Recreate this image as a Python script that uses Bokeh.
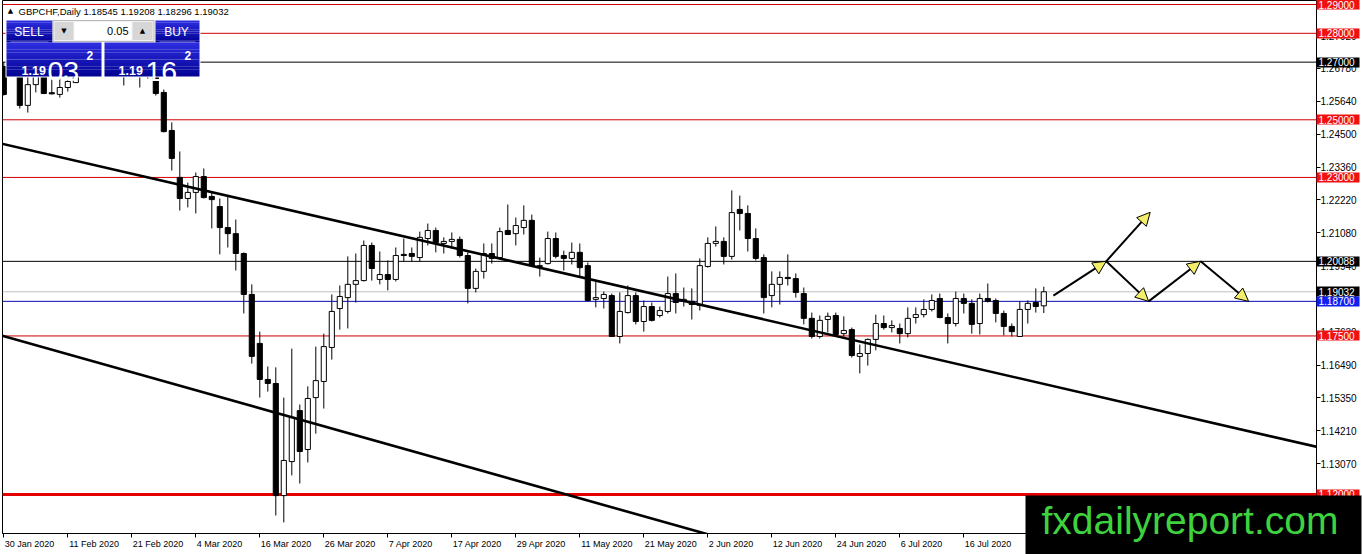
import numpy as np
from bokeh.plotting import figure
from bokeh.models import (Range1d, FixedTicker, PrintfTickFormatter, CustomJSTickFormatter,
                          LinearAxis, Arrow, NormalHead, ColumnDataSource)
from bokeh.core.properties import value
from bokeh.embed import file_html
from bokeh.resources import INLINE

# ---------------- data (GBPCHF daily candles) ----------------
opens = [1.2685, 1.2660, 1.2671, 1.2550, 1.2622, 1.2664, 1.2594, 1.2588, 1.2612, 1.2629,
         1.2655, 1.2690, 1.2730, 1.2770, 1.2715, 1.2740, 1.2660, 1.2700, 1.2665, 1.2680,
         1.2595, 1.2463, 1.2300, 1.2227, 1.2248, 1.2303, 1.2234, 1.2199, 1.2126, 1.2105,
         1.2036, 1.1894, 1.1724, 1.1599, 1.1585, 1.1196, 1.1314, 1.1491, 1.1356, 1.1536,
         1.1592, 1.1710, 1.1845, 1.1883, 1.1929, 1.1942, 1.2064, 1.1946, 1.1963, 1.1946,
         1.2033, 1.2036, 1.2022, 1.2088, 1.2116, 1.2071, 1.2078, 1.2085, 1.2029, 1.1915,
         1.1974, 1.2036, 1.2022, 1.2116, 1.2105, 1.2126, 1.2151, 1.1991, 1.2001, 1.2088,
         1.2029, 1.2019, 1.2040, 1.1994, 1.1877, 1.1880, 1.1890, 1.1748, 1.1831, 1.1890,
         1.1800, 1.1852, 1.1821, 1.1835, 1.1897, 1.1870, 1.1870, 1.1856, 1.1991, 1.2071,
         1.2078, 1.2026, 1.2189, 1.2175, 1.2088, 1.2022, 1.1890, 1.1929, 1.1953, 1.1949,
         1.1897, 1.1811, 1.1748, 1.1807, 1.1821, 1.1758, 1.1772, 1.1679, 1.1689, 1.1738,
         1.1793, 1.1779, 1.1776, 1.1758, 1.1814, 1.1824, 1.1842, 1.1880, 1.1814, 1.1793,
         1.1880, 1.1863, 1.1793, 1.1880, 1.1873, 1.1828, 1.1783, 1.1748, 1.1842, 1.1866,
         1.18545]
highs = [1.2700, 1.2705, 1.2688, 1.2654, 1.2671, 1.2678, 1.2657, 1.2654, 1.2657, 1.2680,
         1.2700, 1.2745, 1.2790, 1.2800, 1.2760, 1.2770, 1.2720, 1.2735, 1.2710, 1.2700,
         1.2605, 1.2491, 1.2390, 1.2282, 1.2317, 1.2331, 1.2248, 1.2227, 1.2234, 1.2154,
         1.2040, 1.1929, 1.1765, 1.1644, 1.1641, 1.1536, 1.1706, 1.1512, 1.1575, 1.1713,
         1.1758, 1.1894, 1.1925, 1.2026, 1.2036, 1.2081, 1.2074, 1.2043, 1.2012, 1.2057,
         1.2088, 1.2057, 1.2112, 1.2140, 1.2126, 1.2092, 1.2109, 1.2095, 1.2040, 1.1984,
         1.2071, 1.2071, 1.2126, 1.2206, 1.2161, 1.2203, 1.2171, 1.2022, 1.2112, 1.2109,
         1.2046, 1.2074, 1.2071, 1.2005, 1.1942, 1.1904, 1.1897, 1.1901, 1.1925, 1.1901,
         1.1873, 1.1866, 1.1852, 1.1956, 1.1967, 1.1918, 1.1915, 1.2019, 1.2092, 1.2130,
         1.2092, 1.2255, 1.2237, 1.2203, 1.2123, 1.2033, 1.1974, 1.1974, 1.2033, 1.1967,
         1.1918, 1.1831, 1.1821, 1.1831, 1.1831, 1.1818, 1.1779, 1.1720, 1.1741, 1.1824,
         1.1821, 1.1804, 1.1793, 1.1849, 1.1849, 1.1877, 1.1894, 1.1897, 1.1828, 1.1904,
         1.1897, 1.1877, 1.1897, 1.1932, 1.1880, 1.1838, 1.1793, 1.1870, 1.1873, 1.1915,
         1.19208]
lows = [1.2584, 1.2655, 1.2539, 1.2525, 1.2595, 1.2591, 1.2588, 1.2577, 1.2598, 1.2629,
        1.2652, 1.2680, 1.2715, 1.2700, 1.2680, 1.2619, 1.2655, 1.2612, 1.2643, 1.2584,
        1.2456, 1.2324, 1.2185, 1.2196, 1.2175, 1.2227, 1.2123, 1.2033, 1.2057, 1.1977,
        1.1828, 1.1654, 1.1536, 1.1557, 1.1127, 1.1103, 1.1266, 1.1238, 1.1311, 1.1411,
        1.1498, 1.1668, 1.1772, 1.1776, 1.1866, 1.1939, 1.1942, 1.1929, 1.1908, 1.1939,
        1.2008, 1.2008, 1.2008, 1.2064, 1.2040, 1.2036, 1.2053, 1.2022, 1.1863, 1.1901,
        1.1949, 1.2001, 1.2022, 1.2102, 1.2064, 1.2102, 1.1991, 1.1956, 1.1998, 1.2019,
        1.1977, 1.1998, 1.1956, 1.1870, 1.1849, 1.1845, 1.1748, 1.1724, 1.1828, 1.1790,
        1.1765, 1.1800, 1.1814, 1.1828, 1.1828, 1.1852, 1.1807, 1.1838, 1.1987, 1.2060,
        1.1998, 1.2015, 1.2116, 1.2043, 1.2012, 1.1828, 1.1849, 1.1859, 1.1925, 1.1883,
        1.1790, 1.1741, 1.1741, 1.1762, 1.1748, 1.1748, 1.1675, 1.1620, 1.1647, 1.1700,
        1.1772, 1.1762, 1.1724, 1.1745, 1.1793, 1.1814, 1.1835, 1.1811, 1.1724, 1.1783,
        1.1828, 1.1758, 1.1755, 1.1866, 1.1797, 1.1752, 1.1748, 1.1748, 1.1793, 1.1831,
        1.18296]
closes = [1.2588, 1.2690, 1.2550, 1.2622, 1.2650, 1.2591, 1.2590, 1.2612, 1.2633, 1.2650,
          1.2690, 1.2730, 1.2770, 1.2715, 1.2740, 1.2660, 1.2700, 1.2665, 1.2690, 1.2591,
          1.2459, 1.2366, 1.2227, 1.2248, 1.2303, 1.2230, 1.2223, 1.2126, 1.2105, 1.2036,
          1.1894, 1.1679, 1.1599, 1.1585, 1.1196, 1.1318, 1.1467, 1.1349, 1.1533, 1.1595,
          1.1713, 1.1835, 1.1887, 1.1929, 1.1942, 1.2064, 1.1984, 1.1963, 1.1946, 1.2029,
          1.2029, 1.2026, 1.2092, 1.2116, 1.2074, 1.2078, 1.2085, 1.2029, 1.1915, 1.1974,
          1.2036, 1.2019, 1.2112, 1.2102, 1.2133, 1.2151, 1.1994, 1.1994, 1.2088, 1.2026,
          1.2019, 1.2040, 1.1987, 1.1873, 1.1883, 1.1894, 1.1748, 1.1835, 1.1890, 1.1800,
          1.1852, 1.1804, 1.1838, 1.1897, 1.1866, 1.1877, 1.1859, 1.1994, 1.2071, 1.2078,
          1.2026, 1.2178, 1.2175, 1.2088, 1.2019, 1.1883, 1.1929, 1.1953, 1.1949, 1.1901,
          1.1811, 1.1748, 1.1804, 1.1818, 1.1755, 1.1769, 1.1682, 1.1689, 1.1738, 1.1793,
          1.1779, 1.1786, 1.1758, 1.1811, 1.1824, 1.1842, 1.1873, 1.1814, 1.1793, 1.1880,
          1.1863, 1.1790, 1.1880, 1.1870, 1.1828, 1.1783, 1.1765, 1.1842, 1.1863, 1.1852,
          1.19032]

tick_labels = ["30 Jan 2020", "11 Feb 2020", "21 Feb 2020", "4 Mar 2020", "16 Mar 2020",
               "26 Mar 2020", "7 Apr 2020", "17 Apr 2020", "29 Apr 2020", "11 May 2020",
               "21 May 2020", "2 Jun 2020", "12 Jun 2020", "24 Jun 2020", "6 Jul 2020",
               "16 Jul 2020"]
tick_step = 8  # bars between date labels

price_ticks = [1.2792, 1.2678, 1.2564, 1.2450, 1.2336, 1.2222, 1.2108, 1.1994,
               1.1880, 1.1763, 1.1649, 1.1535, 1.1421, 1.1307]

levels = [1.29000, 1.28000, 1.27000, 1.25000, 1.23000, 1.20088, 1.19032, 1.18700, 1.17500, 1.12000]
level_line_colors = ["#D00000", "#D00000", "#000000", "#D00000", "#D00000", "#000000",
                     "#C0C0C0", "#0A0AB4", "#D00000", "#E40000"]
level_line_widths = [1, 1, 1, 1, 1, 1, 1, 1, 1, 3]
level_label_colors = ["#F01010", "#F01010", "#000000", "#F01010", "#F01010", "#000000",
                      "#000000", "#1020F0", "#F01010", "#F01010"]

upper_trend_x = [-0.4, 164.6]
upper_trend_y = [1.2418, 1.1362]
lower_trend_x = [-0.2, 100.0]
lower_trend_y = [1.1751, 1.0968]

arrow_x0 = [131.2, 137.8, 137.8, 143.1, 149.6]
arrow_y0 = [1.1890, 1.2009, 1.2009, 1.1870, 1.2009]
arrow_x1 = [137.8, 143.3, 143.1, 149.6, 155.6]
arrow_y1 = [1.2009, 1.2179, 1.1870, 1.2009, 1.1870]

symbol = "GBPCHF,Daily"
bid = 1.19032
ask = 1.19162
lot = "0.05"
watermark = "fxdailyreport.com"

# ---------------- geometry ----------------
W, H = 1362, 554
B_LEFT, B_RIGHT, B_TOP, B_BOTTOM = 2, 46, 0, 21
x_start, x_end = -0.1625, 164.0875
y_bottom, y_top = 1.10645, 1.29139
frame_w = W - B_LEFT - B_RIGHT


def rx(px):  # reference-pixel -> bar index (decorations only)
    return (px - 3.3) / 8.0


def ry(py):  # reference-pixel -> price (decorations only)
    return 1.29 - (py - 4.0) / 2882.0


FONT = "Liberation Sans"

p = figure(width=W, height=H, x_range=Range1d(x_start, x_end), y_range=Range1d(y_bottom, y_top),
           output_backend="svg", toolbar_location=None, y_axis_location="right", title=None,
           min_border_left=B_LEFT, min_border_right=B_RIGHT, min_border_top=B_TOP,
           min_border_bottom=B_BOTTOM)
p.background_fill_color = "white"
p.border_fill_color = "white"
p.outline_line_color = "black"
p.grid.visible = False

# ---------------- axes ----------------
CHAR_EM = {' ': 0.278, 'J': 0.5, 'a': 0.556, 'n': 0.556, 'F': 0.611, 'e': 0.556, 'b': 0.556,
           'M': 0.833, 'r': 0.333, 'A': 0.667, 'p': 0.556, 'y': 0.5, 'u': 0.556, 'l': 0.222}
X_FONT_PX = 9.0


def text_w(s, size):
    return sum(CHAR_EM.get(ch, 0.556) for ch in s) * size


px_per_bar = frame_w / (x_end - x_start)
tick_starts = [i * tick_step for i in range(len(tick_labels))]
tick_centers = [t + (text_w(lab, X_FONT_PX) / 2 + 1.0) / px_per_bar
                for t, lab in zip(tick_starts, tick_labels)]

xa = p.xaxis[0]
xa.ticker = FixedTicker(ticks=tick_centers, minor_ticks=tick_starts)
xa.formatter = CustomJSTickFormatter(args=dict(centers=tick_centers, labels=tick_labels), code="""
let best = 0;
for (let i = 0; i < centers.length; i++) {
  if (Math.abs(centers[i] - tick) < Math.abs(centers[best] - tick)) best = i;
}
return labels[best];
""")
xa.major_tick_out = 0
xa.major_tick_in = 0
xa.major_tick_line_color = None
xa.minor_tick_out = 4
xa.minor_tick_in = 0
xa.minor_tick_line_color = "black"
xa.axis_line_color = "black"
xa.major_label_standoff = 1
xa.major_label_text_font = FONT
xa.major_label_text_font_size = "9px"
xa.major_label_text_color = "black"

ya = p.yaxis[0]
ya.ticker = FixedTicker(ticks=price_ticks)
ya.formatter = PrintfTickFormatter(format="%.5f")
ya.major_tick_out = 4
ya.major_tick_in = 0
ya.minor_tick_out = 0
ya.minor_tick_in = 0
ya.major_tick_line_color = "black"
ya.axis_line_color = "black"
ya.major_label_standoff = 0
ya.major_label_text_font = FONT
ya.major_label_text_font_size = "10px"
ya.major_label_text_color = "black"

# coloured price tags: extra right axes (zero width) whose thick ticks form the label boxes
for col in ["#000000", "#F01010", "#1020F0"]:
    lv = [v for v, c in zip(levels, level_label_colors) if c == col]
    ax = LinearAxis(ticker=FixedTicker(ticks=lv), formatter=PrintfTickFormatter(format="%.5f"))
    ax.axis_line_color = None
    ax.minor_tick_line_color = None
    ax.major_tick_in = 43
    ax.major_tick_out = 0
    ax.major_tick_line_width = 10
    ax.major_tick_line_color = col
    ax.major_label_standoff = -41
    ax.major_label_text_color = "white"
    ax.major_label_text_font = FONT
    ax.major_label_text_font_size = "10px"
    p.add_layout(ax, "right")

# watermark box (one very thick tick) and its text (tick label)
wm_box = LinearAxis(ticker=FixedTicker(ticks=[ry(524.5)]), formatter=CustomJSTickFormatter(code='return ""'))
wm_box.axis_line_color = None
wm_box.minor_tick_line_color = None
wm_box.major_tick_in = 334
wm_box.major_tick_out = 2
wm_box.major_tick_line_width = 60
wm_box.major_tick_line_color = "black"
wm_box.major_label_standoff = -10
p.add_layout(wm_box, "right")

wm_txt = LinearAxis(ticker=FixedTicker(ticks=[ry(519.5)]),
                    formatter=CustomJSTickFormatter(args=dict(t=watermark), code="return t"))
wm_txt.axis_line_color = None
wm_txt.minor_tick_line_color = None
wm_txt.major_tick_line_color = None
wm_txt.major_tick_in = 0
wm_txt.major_tick_out = 0
wm_txt.major_label_standoff = -320
wm_txt.major_label_text_font = FONT
wm_txt.major_label_text_font_size = "39px"
wm_txt.major_label_text_color = "#3ED33E"
p.add_layout(wm_txt, "right")

# ---------------- horizontal levels ----------------
p.segment(x0=[x_start] * len(levels), x1=[x_end] * len(levels), y0=levels, y1=levels,
          line_color=level_line_colors, line_width=level_line_widths)

# ---------------- candles ----------------
o = np.array(opens); h = np.array(highs); l = np.array(lows); c = np.array(closes)
idx = np.arange(len(o))
bull = c >= o
src = ColumnDataSource(dict(x=idx, h=h, l=l, top=np.maximum(o, c), bottom=np.minimum(o, c),
                            fill=np.where(bull, "white", "black")))
p.segment(x0="x", y0="h", x1="x", y1="l", source=src, line_color="black", line_width=1)
p.vbar(x="x", width=0.64, top="top", bottom="bottom", source=src, fill_color="fill",
       line_color="black", line_width=1)

# ---------------- trend lines ----------------
p.line(upper_trend_x, upper_trend_y, line_color="black", line_width=2.6)
p.line(lower_trend_x, lower_trend_y, line_color="black", line_width=2.6)

# ---------------- trading panel (decoration, reference pixels) ----------------
def box(x0, x1, y0, y1, color, line=None):
    p.quad(left=[rx(x0)], right=[rx(x1)], top=[ry(y0)], bottom=[ry(y1)],
           fill_color=color, line_color=line)


def blue_box(x0, x1, y0, y1, n=10):
    c0 = np.array([44, 44, 222]); c1 = np.array([4, 4, 150])
    for k in range(n):
        t = k / (n - 1)
        col = "#%02x%02x%02x" % tuple(int(v) for v in c0 + (c1 - c0) * t)
        box(x0, x1, y0 + (y1 - y0) * k / n, y0 + (y1 - y0) * (k + 1) / n, col)


box(5, 200, 19, 77, "white")
blue_box(6, 52, 20, 42)
blue_box(155, 199, 20, 42)
blue_box(6, 101, 42, 76)
blue_box(104, 199, 42, 76)
box(52.5, 153.5, 20, 41, "#F2F2F2", "#B8B8B8")
box(54, 73, 21.5, 39.5, "#D6D6D6")
box(74, 131, 21.5, 39.5, "white")
box(132, 152, 21.5, 39.5, "#D6D6D6")
box(10, 48, 41, 42, "#7A7AEE")
box(159, 195, 41, 42, "#7A7AEE")


def txt(s, x, y, size, color="white", align="left", baseline="alphabetic", style="normal", font=FONT):
    p.text(x=[rx(x)], y=[ry(y)], text=[s], text_font=value(font), text_font_size=value(size),
           text_color=color, text_align=align, text_baseline=baseline, text_font_style=style)


bid_s = f"{bid:.5f}"
ask_s = f"{ask:.5f}"
txt("▲", 10, 10.5, "7px", "black", "center", "middle", font="DejaVu Sans")
txt(f"{symbol}  {opens[-1]:.5f} {highs[-1]:.5f} {lows[-1]:.5f} {closes[-1]:.5f}",
    18, 10.5, "9.5px", "black", "left", "middle")
txt("SELL", 28.5, 31, "12px", "white", "center", "middle")
txt("BUY", 176, 31, "12px", "white", "center", "middle")
txt(lot, 128, 30.5, "11px", "black", "right", "middle")
txt("▼", 63.5, 30.5, "7px", "black", "center", "middle", font="DejaVu Sans")
txt("▲", 142, 30.5, "7px", "black", "center", "middle", font="DejaVu Sans")
txt(bid_s[:4], 21, 70, "12.5px", style="bold")
txt(bid_s[4:6], 47, 70.5, "28.5px")
txt(bid_s[6], 86, 55, "12px", style="bold")
txt(ask_s[:4], 118, 70, "12.5px", style="bold")
txt(ask_s[4:6], 145, 70.5, "28.5px")
txt(ask_s[6], 184, 55, "12px", style="bold")

# ---------------- forecast arrows ----------------
asrc = ColumnDataSource(dict(x0=arrow_x0, y0=arrow_y0, x1=arrow_x1, y1=arrow_y1))
p.add_layout(Arrow(end=NormalHead(size=13, fill_color="#F2EE6A", line_color="black", line_width=1),
                   x_start="x0", y_start="y0", x_end="x1", y_end="y1", source=asrc,
                   line_color="black", line_width=2))

open("out.html", "w").write(file_html(p, INLINE))
